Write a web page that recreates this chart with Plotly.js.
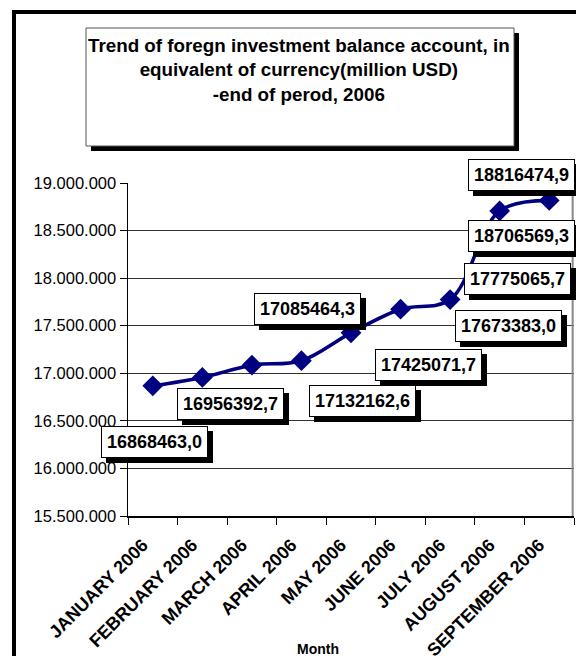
<!DOCTYPE html>
<html>
<head>
<meta charset="utf-8">
<script src="https://cdn.plot.ly/plotly-3.0.1.min.js"></script>
<style>
  html, body { margin: 0; padding: 0; background: #fff; overflow: hidden; }
  #wrap { position: relative; width: 576px; height: 656px; }
  #chart { width: 576px; height: 656px; }
  #frame { position: absolute; left: 12px; top: 10px; width: 600px; height: 700px;
           border-left: 4px solid #000; border-top: 4px solid #000; pointer-events: none; }
</style>
</head>
<body>
<div id="wrap">
  <div id="chart"></div>
  <div id="frame"></div>
</div>
<script>
// ---- data ----
const months = ['JANUARY 2006', 'FEBRUARY 2006', 'MARCH 2006', 'APRIL 2006', 'MAY 2006',
                'JUNE 2006', 'JULY 2006', 'AUGUST 2006', 'SEPTEMBER 2006'];
const balance = [16868463.0, 16956392.7, 17085464.3, 17132162.6, 17425071.7,
                 17673383.0, 17775065.7, 18706569.3, 18816474.9];
const titleLines = ['Trend of foregn investment balance account, in',
                    'equivalent of currency(million USD)',
                    '-end of perod, 2006'];
const xTitle = 'Month';

// ---- layout constants ----
const W = 576, H = 656;
const M = { l: 128, r: 2, t: 183, b: 140 };
const pw = W - M.l - M.r, ph = H - M.t - M.b;
const px = x => (x - M.l) / pw;          // page px -> paper x
const py = y => (H - M.b - y) / ph;      // page px -> paper y

// label offsets (screen px, +x right, +y down) relative to each point
const labelOffsets = [[2, 56], [28, 27], [56, -56], [61, 40], [77, 32],
                      [108, 17], [67, -21], [22, 25], [-28, -25]];
const FONT = 'Liberation Sans, Arial, sans-serif';
const fmt = v => v.toFixed(1).replace('.', ',');

const annotations = [];
balance.forEach((v, i) => {
  const [dx, dy] = labelOffsets[i];
  const common = {
    x: months[i], y: v, xref: 'x', yref: 'y', showarrow: false,
    text: '<b>' + fmt(v) + '</b>',
    font: { family: FONT, size: 18, color: '#000' },
    borderpad: 5, borderwidth: 1, xanchor: 'center', yanchor: 'middle'
  };
  annotations.push(Object.assign({}, common, {
    xshift: dx + 5, yshift: -dy - 5, bgcolor: '#000', bordercolor: '#000'
  }));
  annotations.push(Object.assign({}, common, {
    xshift: dx, yshift: -dy, bgcolor: '#fff', bordercolor: '#000'
  }));
});

// title text
annotations.push({
  xref: 'paper', yref: 'paper', x: px(299), y: py(34), xanchor: 'center', yanchor: 'top',
  showarrow: false, borderpad: 0,
  text: '<b>' + titleLines.join('<br>') + '</b>',
  font: { family: FONT, size: 18.8, color: '#000' }
});
// x axis title
annotations.push({
  xref: 'paper', yref: 'paper', x: px(318), y: py(649), xanchor: 'center', yanchor: 'middle',
  showarrow: false, text: '<b>' + xTitle + '</b>',
  font: { family: FONT, size: 14, color: '#000' }
});

const shapes = [
  // title box shadow + box
  { type: 'rect', xref: 'paper', yref: 'paper', x0: px(91), x1: px(519), y0: py(33), y1: py(151),
    fillcolor: '#000', line: { width: 0 }, layer: 'below' },
  { type: 'rect', xref: 'paper', yref: 'paper', x0: px(86), x1: px(514), y0: py(28), y1: py(146),
    fillcolor: '#fff', line: { color: '#555', width: 1 }, layer: 'below' },
  // right plot border
  { type: 'line', xref: 'paper', yref: 'paper', x0: 0.997, x1: 0.997, y0: 0, y1: 1,
    line: { color: '#888', width: 2 } }
];

const trace = {
  type: 'scatter', mode: 'lines+markers',
  x: months, y: balance,
  line: { color: '#000080', width: 3.5, shape: 'spline', smoothing: 1 },
  marker: { symbol: 'diamond', size: 16, color: '#000080' },
  hoverinfo: 'skip', cliponaxis: false
};

const layout = {
  width: W, height: H,
  margin: M,
  paper_bgcolor: '#fff', plot_bgcolor: '#fff',
  separators: ',.',
  showlegend: false,
  font: { family: FONT, color: '#000' },
  xaxis: {
    type: 'category', range: [-0.5, 8.5],
    showgrid: false, showline: true, linecolor: '#000', linewidth: 1.5,
    ticks: 'outside', ticklen: 7, tickcolor: '#000', tickson: 'boundaries',
    tickangle: -45, ticklabelstandoff: 10, ticklabelshift: -10,
    tickfont: { family: FONT, size: 18, color: '#000', weight: 'bold' },
    fixedrange: true
  },
  yaxis: {
    range: [15500000, 19000000], dtick: 500000, tickformat: ',d',
    showgrid: true, gridcolor: '#333', gridwidth: 1,
    showline: true, linecolor: '#000', linewidth: 1.5,
    ticks: 'outside', ticklen: 7, tickcolor: '#000',
    tickfont: { family: FONT, size: 16.5, color: '#000' },
    zeroline: false, fixedrange: true
  },
  shapes: shapes,
  annotations: annotations
};

Plotly.newPlot('chart', [trace], layout, { displayModeBar: false, staticPlot: true });
</script>
</body>
</html>
